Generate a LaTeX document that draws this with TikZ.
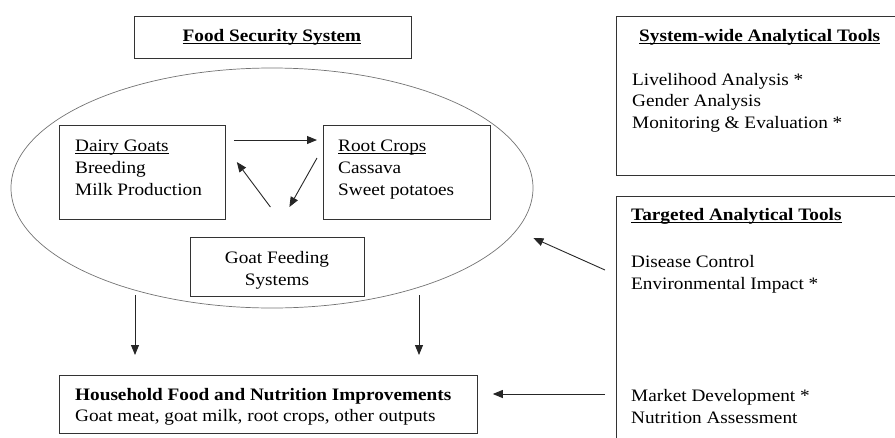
\documentclass[tikz,border=0pt]{standalone}
\usepackage{fontspec}
\setmainfont{Liberation Serif}[FakeStretch=1.1]
\usetikzlibrary{arrows.meta,positioning,shapes.geometric}
\newsavebox{\headbox}
\newcommand{\boxhead}[1]{\sbox{\headbox}{#1}\rlap{\rule[-2pt]{\wd\headbox}{0.7pt}}\usebox{\headbox}}
\newcommand{\toolhead}[1]{\sbox{\headbox}{\bfseries #1}\rlap{\rule[-3pt]{\wd\headbox}{1.4pt}}\usebox{\headbox}}

\begin{document}
\begin{tikzpicture}[x=1pt, y=-1pt,
  font=\fontsize{17.5}{21.7}\selectfont,
  box/.style={draw=black!80, line width=0.8pt, inner sep=0pt, anchor=north west},
  txt/.style={align=left, inner sep=0pt, anchor=base west},
  arr/.style={-{Triangle[length=10pt,width=8pt]}, line width=0.9pt, black!85},
]
\useasboundingbox (0,0) rectangle (895,437);
\clip (0,0) rectangle (895,437);
% ---------- the food security system ----------
\node[box, minimum width=277pt, minimum height=42pt] (fss) at (134,16) {};
\node[inner sep=0pt, anchor=base] (fsst) at (272,41) {\toolhead{Food Security System}};
\node[draw=black!55, line width=0.7pt, ellipse, inner sep=0pt,
      minimum width=522pt, minimum height=240pt] (sys) at (272,188) {};
\node[box, minimum width=166pt, minimum height=94pt] (dairy) at (59,125) {};
\node[txt] (dairyt) at (75,195) {\boxhead{Dairy Goats}\\Breeding\\Milk Production};
\node[box, minimum width=167pt, minimum height=94pt] (root) at (323,125) {};
\node[txt] (roott) at (338,195) {\boxhead{Root Crops}\\Cassava\\Sweet potatoes};
\node[box, minimum width=174pt, minimum height=59pt] (feed) at (190,237) {};
\node[txt, align=center, anchor=base] (feedt) at (277,285) {Goat Feeding\\Systems};
% cycle inside the system
\draw[arr] ([shift={(8,15)}]dairy.north east) -- ([shift={(-6,15)}]root.north west);
\draw[arr] ([shift={(-6,33)}]root.north west) -- ([shift={(12,-30)}]feed.north);
\draw[arr] ([shift={(-7,-30)}]feed.north) -- ([shift={(11,37)}]dairy.north east);
% ---------- outputs ----------
\node[box, minimum width=418pt, minimum height=58pt] (hh) at (59,375) {};
\node[txt] (hht) at (75,421.5) {\textbf{Household Food and Nutrition Improvements}\\[-1pt]Goat meat, goat milk, root crops, other outputs};
\draw[arr] ([shift={(76,-80)}]hh.north west) -- ([shift={(76,-20)}]hh.north west);
\draw[arr] ([shift={(360,-80)}]hh.north west) -- ([shift={(360,-20)}]hh.north west);
% ---------- analytical tools ----------
\node[box, minimum width=300pt, minimum height=159pt] (wide) at (616,16) {};
\node[txt] (widet) at (639,41) {\toolhead{System-wide Analytical Tools}};
\node[txt] (widel) at (632,128.5) {Livelihood Analysis *\\Gender Analysis\\Monitoring \& Evaluation *};
\node[box, minimum width=300pt, minimum height=260pt] (targ) at (616,196) {};
\node[txt] (targt) at (631,220) {\toolhead{Targeted Analytical Tools}};
\node[txt] (targa) at (631,289) {Disease Control\\Environmental Impact *};
\node[txt] (targb) at (631,423) {Market Development *\\Nutrition Assessment};
\draw[arr] ([shift={(-11,74)}]targ.north west) -- ([shift={(0,50)}]sys.east);
\draw[arr] ([shift={(-11,198)}]targ.north west) -- ([shift={(15,19)}]hh.north east);
\end{tikzpicture}
\end{document}
